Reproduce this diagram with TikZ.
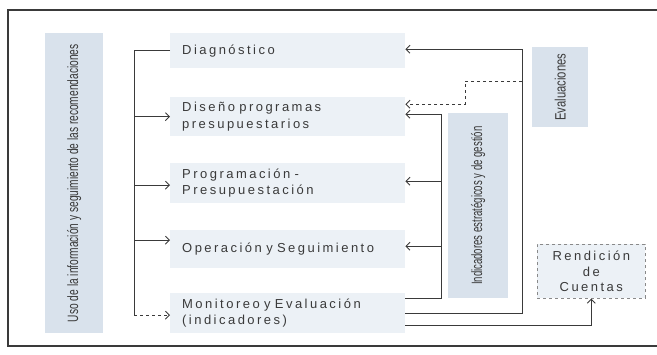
\documentclass[tikz,border=0pt]{standalone}
\usepackage{fontspec}
\setmainfont{Liberation Sans}
\newfontfamily\boxfont[LetterSpace=19]{Liberation Sans}
\usetikzlibrary{arrows.meta,calc}
\definecolor{ink}{HTML}{3A3A3A}
\definecolor{boxfill}{HTML}{ECF1F6}
\definecolor{sidefill}{HTML}{D9E2EC}
\begin{document}
\begin{tikzpicture}[x=1pt,y=-1pt,
  mbox/.style={fill=boxfill, draw=none, anchor=north west, minimum width=235pt,
     text width=211pt, inner xsep=12pt, align=left, font=\boxfont\fontsize{13}{16.5}\selectfont, text=ink},
  sidebox/.style={fill=sidefill, draw=none, anchor=north west},
  sidetext/.style={rotate=90, text=ink, inner sep=0pt},
  conn/.style={draw=ink, line width=0.9pt},
  arr/.style={conn, -{Straight Barb[length=4pt,width=8pt]}},
]
\useasboundingbox (0,0) rectangle (657,354);
% frame
\draw[line width=1.3pt, ink] (657,10) -- (8,10) -- (8,346) -- (657,346);

% left rotated box
\node[sidebox, minimum width=58pt, minimum height=300pt] (uso) at (45,33) {};
\node[sidetext] (usot) at (uso.center) {\scalebox{0.68}[1]{\fontsize{15}{15}\selectfont Uso de la información y seguimiento de las recomendaciones}};

% main boxes
\node[mbox, minimum height=35pt] (diag) at (170,33) {Diagnóstico};
\node[mbox, minimum height=39pt] (dis) at (170,97) {Diseño programas\\presupuestarios};
\node[mbox, minimum height=40pt] (prog) at (170,163) {Programación -\\Presupuestación};
\node[mbox, minimum height=38pt] (oper) at (170,230) {Operación y Seguimiento};
\node[mbox, minimum height=40pt] (mon) at (170,293) {Monitoreo y Evaluación\\(indicadores)};

% right side boxes
\node[sidebox, minimum width=56pt, minimum height=80pt] (eval) at (532,47) {};
\node[sidetext] (evalt) at (eval.center) {\scalebox{0.75}[1]{\fontsize{15}{15}\selectfont Evaluaciones}};
\node[sidebox, minimum width=60pt, minimum height=185pt] (ind) at (448,113) {};
\node[sidetext] (indt) at (ind.center) {\scalebox{0.64}[1]{\fontsize{15}{15}\selectfont Indicadores estratégicos y de gestión}};

\node[fill=boxfill, draw=ink!60, dashed, line width=0.6pt, minimum width=108pt, minimum height=54pt,
      anchor=north west, align=center, font=\boxfont\fontsize{13}{15.5}\selectfont, text=ink] (rend) at (537,244) {Rendición\\de\\Cuentas};

% left bus
\coordinate (busx) at (134,0);
\draw[conn] (diag.west) -- (diag.west -| busx) -- ([yshift=-2pt]mon.west -| busx);
\draw[arr] (dis.west -| busx) -- (dis.west);
\draw[arr] ([yshift=-2pt]prog.west -| busx) -- ([yshift=-2pt]prog.west);
\draw[arr] ([yshift=9pt]oper.west -| busx) -- ([yshift=9pt]oper.west);
\draw[arr, dashed] ([yshift=-2pt]mon.west -| busx) -- ([yshift=-2pt]mon.west);

% evaluaciones loop
\coordinate (ex) at (522,0);
\coordinate (dx) at (465,0);
\coordinate (dstart) at (522,81);
\coordinate (d1) at ([yshift=12.5pt]dis.east);
\coordinate (d2) at ([yshift=2.5pt]dis.east);
\draw[arr] (mon.east) -- (mon.east -| ex) -- ([yshift=1.5pt]diag.east -| ex) -- ([yshift=1.5pt]diag.east);
\draw[arr, dashed] (dstart) -- (dstart -| dx) -- (dx |- d1) -- (d1);

% indicadores loop
\coordinate (ix) at (441,0);
\draw[conn] ([yshift=15pt]mon.east) -- ([yshift=15pt]mon.east -| ix) -- (d2 -| ix);
\draw[arr] (d2 -| ix) -- (d2);
\draw[arr] ([yshift=2pt]prog.east -| ix) -- ([yshift=2pt]prog.east);
\draw[arr] ([yshift=3pt]oper.east -| ix) -- ([yshift=3pt]oper.east);

% rendicion de cuentas
\draw[arr] ([yshift=-12pt]mon.east) -- ([yshift=-12pt]mon.east -| rend.south) -- (rend.south);
\end{tikzpicture}
\end{document}
